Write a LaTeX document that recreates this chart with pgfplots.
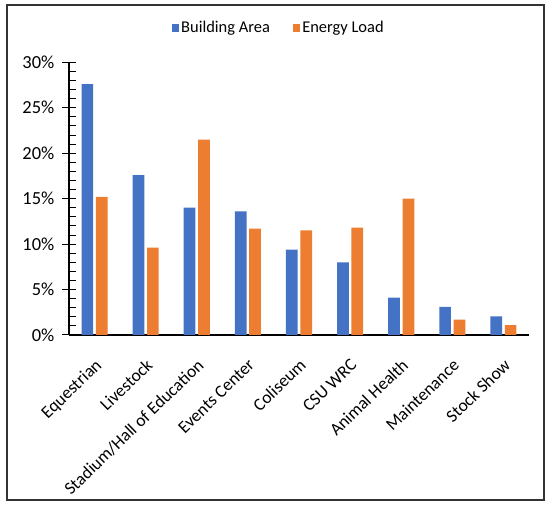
\documentclass[border=0pt]{standalone}
\usepackage{fontspec}
\setmainfont{Carlito}
\usepackage{pgfplots}
\pgfplotsset{compat=1.18}

\definecolor{barblue}{HTML}{4472C4}
\definecolor{barorange}{HTML}{ED7D31}

\begin{document}
\begin{tikzpicture}
\useasboundingbox (0,0) rectangle (550bp,506bp);
\draw[black!80, line width=1.5bp] (7bp,6bp) rectangle (544bp,501bp);
\begin{axis}[
    at={(69bp,171bp)}, anchor=south west,
    scale only axis, width=460bp, height=272.7bp,
    ybar=2.7bp, bar width=11.7bp,
    xmin=-0.5, xmax=8.5, ymin=0, ymax=30,
    axis lines*=left,
    axis line style={-, line width=1.2bp},
    xtick={0,...,8},
    xticklabels={Equestrian, Livestock, Stadium/Hall of Education, Events Center, Coliseum, CSU WRC, Animal Health, Maintenance, Stock Show},
    x tick style={draw=none},
    xticklabel style={yshift=-16.2bp, xshift=-0.5bp, rotate=44, anchor=north east, inner sep=0pt,
        font=\fontsize{17.6}{20}\selectfont},
    ytick={0,5,...,30},
    yticklabels={0\%, 5\%, 10\%, 15\%, 20\%, 25\%, 30\%},
    minor y tick num=4,
    tick align=center,
    major tick length=13bp, minor tick length=7bp,
    minor tick style={xshift=3.5bp},
    y tick style={black, line width=1bp},
    yticklabel style={inner sep=0pt, xshift=-8bp, font=\fontsize{18.5}{21}\selectfont},
    legend columns=2,
    legend style={at={(axis description cs:0.456,1.126)}, anchor=center,
        draw=none, fill=none, font=\fontsize{16.5}{19}\selectfont,
        /tikz/every even column/.append style={column sep=21bp}},
    legend image code/.code={\fill[#1] (0bp,-3.7bp) rectangle (7.4bp,3.7bp);},
]
    \addplot[fill=barblue, draw=none] coordinates {
        (0, 27.6) (1, 17.6) (2, 14.0) (3, 13.6) (4, 9.4)
        (5, 8.0) (6, 4.1) (7, 3.1) (8, 2.05)
    };
    \addplot[fill=barorange, draw=none] coordinates {
        (0, 15.2) (1, 9.6) (2, 21.5) (3, 11.7) (4, 11.5)
        (5, 11.8) (6, 15.0) (7, 1.7) (8, 1.1)
    };
    \legend{Building Area, Energy Load}
\end{axis}
\end{tikzpicture}
\end{document}
